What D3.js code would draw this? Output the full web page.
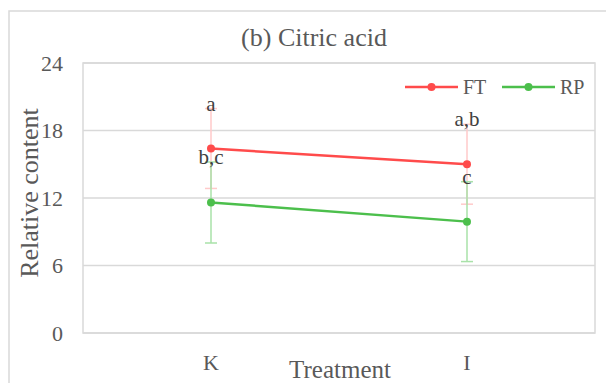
<!DOCTYPE html>
<html>

<head>
	<meta charset="utf-8">
	<title>Citric acid</title>
	<script type="text/javascript" src="https://cdn.jsdelivr.net/npm/d3@7/dist/d3.min.js"></script>
	<style>
		body { margin: 0; background: #fff; }
	</style>
</head>

<body>
	<div id="chart"></div>

	<script type="text/javascript">
		// data
		var categories = ["K", "I"];
		var seriesNames = ["FT", "RP"];
		var ftValues = [16.4, 15.0];
		var ftErrors = [3.55, 3.55];
		var rpValues = [11.6, 9.9];
		var rpErrors = [3.6, 3.55];
		var ftLetters = ["a", "a,b"];
		var rpLetters = ["b,c", "c"];
		var yTicks = [0, 6, 12, 18, 24];

		var series = [
			{ name: seriesNames[0], values: ftValues, errors: ftErrors, letters: ftLetters, color: "#ff4b4b", errColor: "#ffcaca" },
			{ name: seriesNames[1], values: rpValues, errors: rpErrors, letters: rpLetters, color: "#4cbf4c", errColor: "#a9e2a9" }
		];

		var serif = "'Liberation Serif', 'Times New Roman', serif";
		var textColor = "#595959";

		var width = 606, height = 383;
		var plot = { left: 83, right: 595, top: 63, bottom: 333 };

		var svg = d3.select("#chart").append("svg")
			.attr("width", width).attr("height", height);

		// outer chart border
		svg.append("rect")
			.attr("x", 9).attr("y", 11)
			.attr("width", 612).attr("height", 390)
			.attr("fill", "none").attr("stroke", "#d9d9d9").attr("stroke-width", 1.5);

		var x = d3.scaleBand().domain(categories).range([plot.left, plot.right]);
		var y = d3.scaleLinear().domain([0, 24]).range([plot.bottom, plot.top]);
		function cx(c) { return x(c) + x.bandwidth() / 2; }

		// gridlines
		svg.append("g").selectAll("line")
			.data(yTicks)
			.enter().append("line")
			.attr("x1", plot.left).attr("x2", plot.right)
			.attr("y1", function (d) { return y(d); })
			.attr("y2", function (d) { return y(d); })
			.attr("stroke", "#d9d9d9").attr("stroke-width", 1.5);

		// plot border
		svg.append("rect")
			.attr("x", plot.left).attr("y", plot.top)
			.attr("width", plot.right - plot.left).attr("height", plot.bottom - plot.top)
			.attr("fill", "none").attr("stroke", "#d9d9d9").attr("stroke-width", 1.5);

		// y axis labels
		var yAxis = d3.axisLeft(y).tickValues(yTicks).tickSize(0).tickPadding(20);
		var gy = svg.append("g").attr("transform", "translate(" + plot.left + ",0)").call(yAxis);
		gy.attr("font-family", serif);
		gy.select(".domain").remove();
		gy.selectAll("text").style("font-family", serif).style("font-size", "22px").attr("fill", textColor);

		// x axis labels
		var xAxis = d3.axisBottom(x).tickSize(0).tickPadding(0);
		var gx = svg.append("g").attr("transform", "translate(0,352)").call(xAxis);
		gx.attr("font-family", serif);
		gx.select(".domain").remove();
		gx.selectAll("text").style("font-family", serif).style("font-size", "22px").attr("fill", textColor).attr("dy", "0.8em");

		// titles
		svg.append("text")
			.attr("x", 314).attr("y", 46)
			.attr("text-anchor", "middle")
			.style("font-family", serif).style("font-size", "26px").attr("fill", textColor)
			.text("(b) Citric acid");

		svg.append("text")
			.attr("x", 340).attr("y", 378)
			.attr("text-anchor", "middle")
			.style("font-family", serif).style("font-size", "25px").attr("fill", textColor)
			.text("Treatment");

		svg.append("text")
			.attr("transform", "translate(38,193) rotate(-90)")
			.attr("text-anchor", "middle")
			.style("font-family", serif).style("font-size", "26px").attr("fill", textColor)
			.text("Relative content");

		var line = d3.line()
			.x(function (d, i) { return cx(categories[i]); })
			.y(function (d) { return y(d); });

		series.forEach(function (s) {
			var g = svg.append("g");
			var cap = 6;

			// error bars
			s.values.forEach(function (v, i) {
				var xc = cx(categories[i]);
				var lo = y(v - s.errors[i]), hi = y(v + s.errors[i]);
				g.append("line").attr("x1", xc).attr("x2", xc).attr("y1", lo).attr("y2", hi)
					.attr("stroke", s.errColor).attr("stroke-width", 1.5);
				[lo, hi].forEach(function (yy) {
					g.append("line").attr("x1", xc - cap).attr("x2", xc + cap).attr("y1", yy).attr("y2", yy)
						.attr("stroke", s.errColor).attr("stroke-width", 1.5);
				});
			});

			g.append("path")
				.datum(s.values)
				.attr("d", line)
				.attr("fill", "none")
				.attr("stroke", s.color)
				.attr("stroke-width", 2.5);

			g.selectAll("circle")
				.data(s.values)
				.enter().append("circle")
				.attr("cx", function (d, i) { return cx(categories[i]); })
				.attr("cy", function (d) { return y(d); })
				.attr("r", 4)
				.attr("fill", s.color);
		});

		// significance letters
		series.forEach(function (s) {
			svg.append("g").selectAll("text")
				.data(s.letters)
				.enter().append("text")
				.attr("x", function (d, i) { return cx(categories[i]); })
				.attr("y", function (d, i) { return y(s.values[i] + s.errors[i]) + 2; })
				.attr("text-anchor", "middle")
				.style("font-family", serif).style("font-size", "21px").attr("fill", "#404040")
				.text(function (d) { return d; });
		});

		// legend
		var legendX = [405, 502];
		var legend = svg.append("g").selectAll("g")
			.data(series)
			.enter().append("g")
			.attr("transform", function (d, i) { return "translate(" + legendX[i] + ",87)"; });
		legend.append("line")
			.attr("x1", 0).attr("x2", 53)
			.attr("stroke", function (d) { return d.color; })
			.attr("stroke-width", 2.5);
		legend.append("circle")
			.attr("cx", 26.5).attr("r", 4)
			.attr("fill", function (d) { return d.color; });
		legend.append("text")
			.attr("x", 58).attr("y", 7)
			.style("font-family", serif).style("font-size", "20px").attr("fill", textColor)
			.text(function (d) { return d.name; });
	</script>

</body>

</html>
